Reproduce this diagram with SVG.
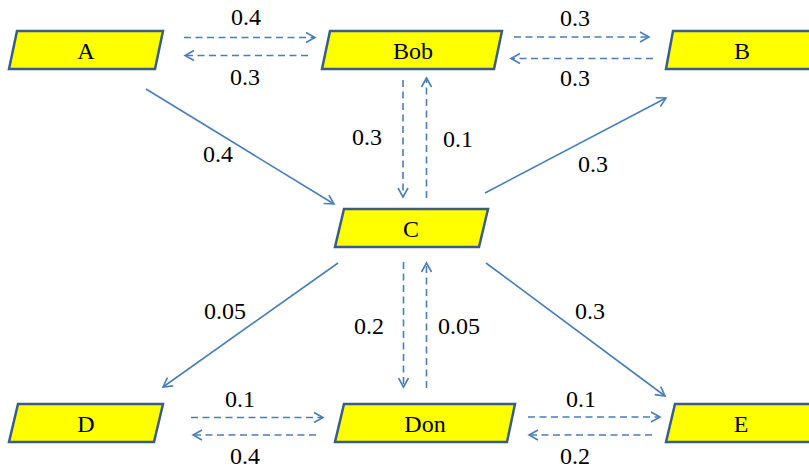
<svg xmlns="http://www.w3.org/2000/svg" width="809" height="473" viewBox="0 0 809 473">
  <defs>
    <marker id="arrow" markerUnits="userSpaceOnUse" markerWidth="14" markerHeight="14" viewBox="-12 -7 14 14" refX="0" refY="0" orient="auto">
      <path d="M-9,-5 L0,0 L-9,5" fill="none" stroke="#4a7ebb" stroke-width="1.6" stroke-linejoin="miter"/>
    </marker>
  </defs>
  <style>
    .node { fill: #ffff00; stroke: #385d8a; stroke-width: 2.5; stroke-linejoin: miter; }
    .label { font-family: "Liberation Serif", "Times New Roman", serif; font-size: 24px; fill: #000; text-anchor: middle; }
    .edge { fill: none; stroke: #4a7ebb; stroke-width: 1.6; marker-end: url(#arrow); }
    .dash { stroke-dasharray: 7 4.5; }
  </style>
  <rect width="809" height="473" fill="#ffffff"/>

  <!-- connectors -->
  <g id="connectors">
    <!-- A <-> Bob -->
    <line class="edge dash" x1="184" y1="37.5" x2="315" y2="37.5"/>
    <line class="edge dash" x1="308" y1="55.5" x2="185" y2="55.5"/>
    <!-- Bob <-> B -->
    <line class="edge dash" x1="514" y1="37" x2="649" y2="37"/>
    <line class="edge dash" x1="653" y1="58.5" x2="511" y2="58.5"/>
    <!-- Bob <-> C -->
    <line class="edge dash" x1="403" y1="80" x2="403" y2="197"/>
    <line class="edge dash" x1="426.5" y1="198" x2="426.5" y2="78"/>
    <!-- C <-> Don -->
    <line class="edge dash" x1="403.5" y1="262" x2="403.5" y2="387"/>
    <line class="edge dash" x1="426.5" y1="388" x2="426.5" y2="263"/>
    <!-- D <-> Don -->
    <line class="edge dash" x1="191" y1="417.5" x2="323" y2="417.5"/>
    <line class="edge dash" x1="316" y1="435" x2="193" y2="435"/>
    <!-- Don <-> E -->
    <line class="edge dash" x1="528" y1="417" x2="660" y2="417"/>
    <line class="edge dash" x1="652" y1="435" x2="529" y2="435"/>
    <!-- diagonal links -->
    <line class="edge" x1="146" y1="89" x2="334" y2="204"/>
    <line class="edge" x1="485" y1="193" x2="666" y2="98"/>
    <line class="edge" x1="338" y1="263" x2="163" y2="387"/>
    <line class="edge" x1="486" y1="263" x2="665" y2="396"/>
  </g>

  <!-- edge weights -->
  <g id="weights">
    <text class="label" x="246" y="25">0.4</text>
    <text class="label" x="245" y="85">0.3</text>
    <text class="label" x="575" y="26">0.3</text>
    <text class="label" x="575" y="86">0.3</text>
    <text class="label" x="367" y="145">0.3</text>
    <text class="label" x="458" y="147">0.1</text>
    <text class="label" x="218" y="162">0.4</text>
    <text class="label" x="593" y="172">0.3</text>
    <text class="label" x="225" y="319">0.05</text>
    <text class="label" x="369" y="334">0.2</text>
    <text class="label" x="459" y="334">0.05</text>
    <text class="label" x="590" y="319">0.3</text>
    <text class="label" x="240" y="407">0.1</text>
    <text class="label" x="245" y="464">0.4</text>
    <text class="label" x="581" y="407">0.1</text>
    <text class="label" x="575" y="464">0.2</text>
  </g>

  <!-- nodes -->
  <g id="node-A">
    <polygon class="node" points="17,31 163,31 155,69 9,69"/>
    <text class="label" x="86" y="59">A</text>
  </g>
  <g id="node-Bob">
    <polygon class="node" points="330,31 502,31 494,69 322,69"/>
    <text class="label" x="413" y="59">Bob</text>
  </g>
  <g id="node-B">
    <polygon class="node" points="673,31 820,31 812,69 666,69"/>
    <text class="label" x="742" y="59">B</text>
  </g>
  <g id="node-C">
    <polygon class="node" points="344,209 488,209 479,247 335,247"/>
    <text class="label" x="411" y="237">C</text>
  </g>
  <g id="node-D">
    <polygon class="node" points="18,404 163,404 154,442 9,442"/>
    <text class="label" x="86" y="432">D</text>
  </g>
  <g id="node-Don">
    <polygon class="node" points="344,404 515,404 507,442 335,442"/>
    <text class="label" x="425" y="432">Don</text>
  </g>
  <g id="node-E">
    <polygon class="node" points="675,404 820,404 812,442 666,442"/>
    <text class="label" x="741" y="432">E</text>
  </g>
</svg>
